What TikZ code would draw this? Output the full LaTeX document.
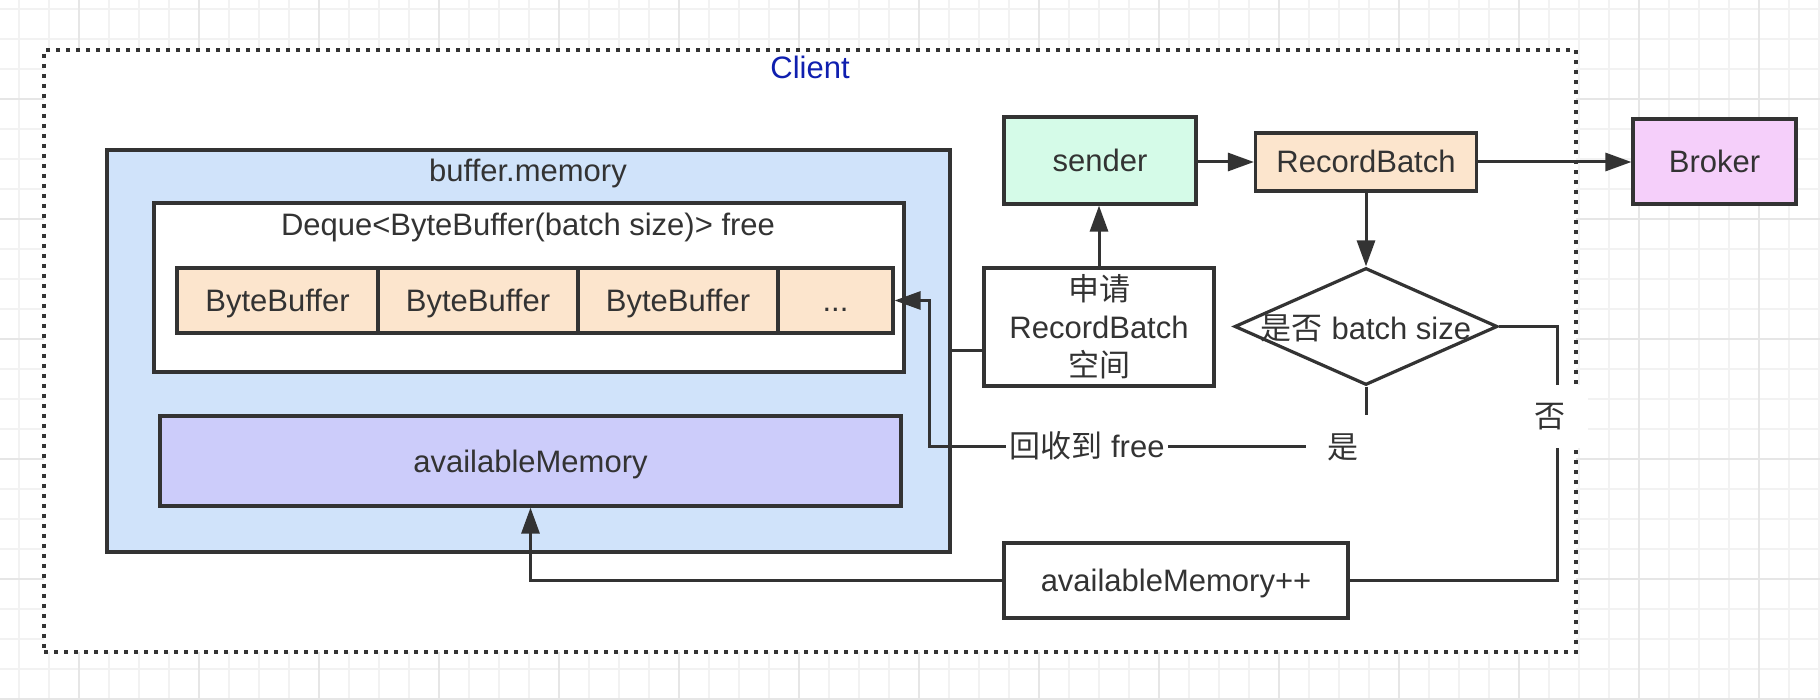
\documentclass[tikz,border=0pt]{standalone}
\usepackage{fontspec}
\setmainfont{Liberation Sans}
\newfontfamily\cjk{Noto Sans CJK SC}
\usetikzlibrary{shapes.geometric,arrows.meta}
\definecolor{ink}{HTML}{333333}
\definecolor{clientblue}{HTML}{0F1FAF}
\definecolor{bufblue}{HTML}{D0E3FA}
\definecolor{peach}{HTML}{FCE5CD}
\definecolor{lilac}{HTML}{CCCCFA}
\definecolor{mint}{HTML}{D5FBE8}
\definecolor{pink}{HTML}{F5CFFA}
\definecolor{gridminor}{HTML}{F2F2F2}
\definecolor{gridmajor}{HTML}{E6E6E6}
\begin{document}
\begin{tikzpicture}[x=0.5pt,y=-0.5pt,
  txtbase/.style={font=\fontsize{15.5}{19}\selectfont, text=ink},
  txt/.style={txtbase, text height=11pt, text depth=0pt},
  framed/.style={draw=ink, line width=1.6pt, rectangle, inner sep=0pt},
  box/.style={txt, framed},
  conn/.style={draw=ink, line width=1.5pt},
  arr/.style={conn, -{Triangle[length=13pt,width=9pt]}},
  lbl/.style={txt, fill=white, inner sep=0pt}
]
\useasboundingbox (0,0) rectangle (1820,700);
\fill[white] (0,0) rectangle (1820,700);
% background grid
\foreach \x in {19,49,...,1819} \draw[gridminor, line width=0.75pt] (\x,0) -- (\x,700);
\foreach \y in {9,39,...,699} \draw[gridminor, line width=0.75pt] (0,\y) -- (1820,\y);
\foreach \x in {79,199,...,1819} \draw[gridmajor, line width=0.75pt] (\x,0) -- (\x,700);
\foreach \y in {99,219,...,699} \draw[gridmajor, line width=0.75pt] (0,\y) -- (1820,\y);

% client container
\node[draw=ink, fill=white, line width=1.8pt, dash pattern=on 1.8pt off 3.2pt,
      minimum width=766pt, minimum height=301pt, inner sep=0pt] (client) at (810,351) {};
\node[txt, text=clientblue] (clientlbl) at (810,68) {Client};

% buffer.memory
\node[box, fill=bufblue, minimum width=421.5pt, minimum height=201pt] (buf) at (528.5,351) {};
\node[txt] (buflbl) at (528,171) {buffer.memory};
\node[box, fill=white, minimum width=375pt, minimum height=84.5pt] (deque) at (529,287.5) {};
\node[txt] (dequelbl) at (528,225) {Deque<ByteBuffer(batch size)> free};
\node[box, fill=peach, minimum width=100.5pt, minimum height=32.5pt] (c1) at (277.5,300.5) {ByteBuffer};
\node[box, fill=peach, minimum width=100pt, minimum height=32.5pt] (c2) at (478,300.5) {ByteBuffer};
\node[box, fill=peach, minimum width=100pt, minimum height=32.5pt] (c3) at (678,300.5) {ByteBuffer};
\node[box, fill=peach, minimum width=57.5pt, minimum height=32.5pt] (c4) at (835.5,300.5) {...};
\node[box, fill=lilac, minimum width=370.5pt, minimum height=45pt] (avail) at (530.5,461) {availableMemory};

% right side
\node[box, fill=mint, minimum width=96pt, minimum height=43.5pt] (sender) at (1100,160.5) {sender};
\node[box, fill=peach, minimum width=110.5pt, minimum height=29pt] (rb) at (1366,162) {RecordBatch};
\node[box, fill=pink, minimum width=81.5pt, minimum height=42.5pt] (broker) at (1714.5,161.5) {Broker};
\node[txtbase, framed, fill=white, minimum width=115pt, minimum height=59pt, align=center]
      (req) at (1099,327) {{\cjk 申请}\\RecordBatch\\{\cjk 空间}};
\node[draw=ink, fill=white, line width=1.6pt, diamond, inner sep=0pt,
      minimum width=131.5pt, minimum height=58.5pt] (dia) at (1366,326.5) {};
\node[txt] (dialbl) at (1366,328) {{\cjk 是否} batch size};
\node[box, fill=white, minimum width=172pt, minimum height=37.5pt] (amp) at (1176,580.5) {availableMemory++};

% connectors
\draw[arr] (sender.east |- rb.west) -- (rb.west);
\draw[arr] (rb.east) -- (rb.east -| broker.west);
\draw[arr] (req.north) -- (req.north |- sender.south);
\draw[arr] (rb.south) -- (dia.north);
\draw[conn] ([yshift=-11.5pt]req.west) -- ([yshift=-11.5pt]req.west -| buf.east);
\coordinate (bendyes) at (929,446);
\draw[arr] (dia.south) |- (bendyes) |- (c4.east);
\coordinate (bendno) at (1557,580.5);
\draw[conn] (dia.east) -| (bendno) -- (amp.east);
\draw[arr] (amp.west) -| (avail.south);

% edge labels
\node[lbl, minimum width=81pt, minimum height=15pt] (recl) at (1087,446) {{\cjk 回收到} free};
\node[lbl, minimum width=37.5pt, minimum height=32.5pt] (yes) at (1343,447) {\cjk 是};
\node[lbl, minimum width=38pt, minimum height=31.5pt] (no) at (1550,416.5) {\cjk 否};
\end{tikzpicture}
\end{document}
